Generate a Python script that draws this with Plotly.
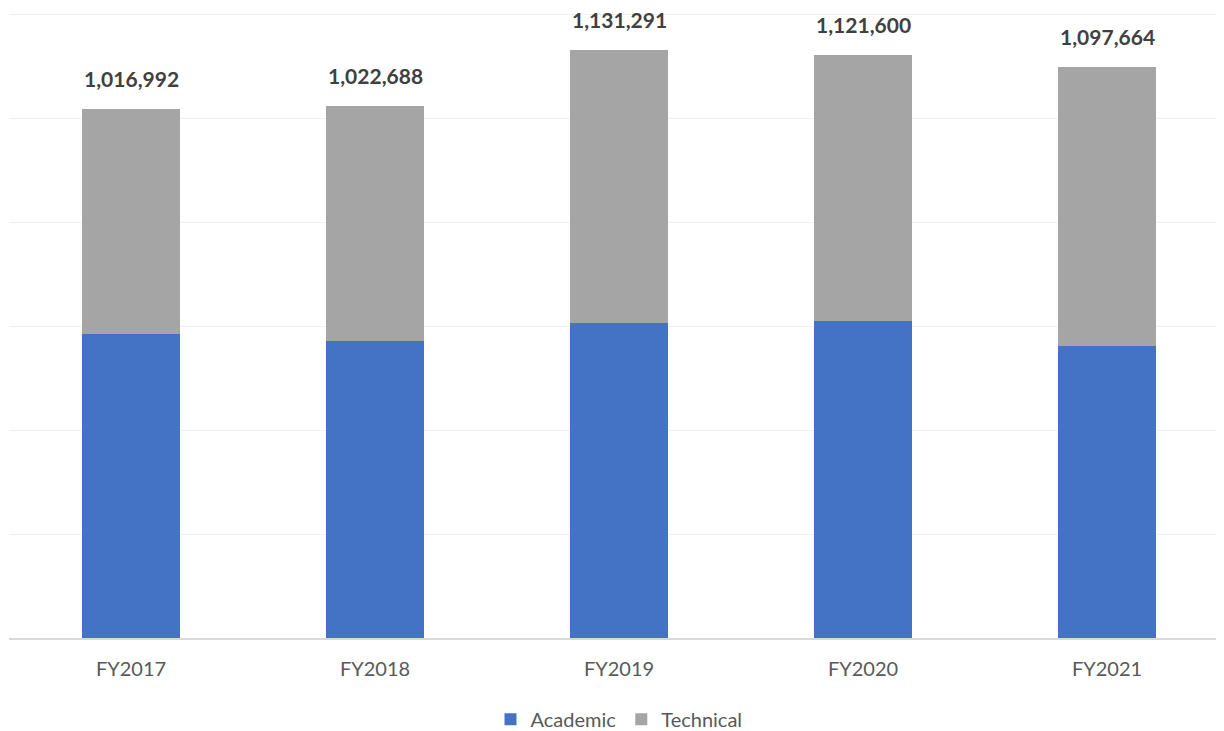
import plotly.graph_objects as go

years = ['FY2017', 'FY2018', 'FY2019', 'FY2020', 'FY2021']
totals = [1016992, 1022688, 1131291, 1121600, 1097664]
academic = [584300, 571600, 605400, 609200, 562000]
technical = [t - a for t, a in zip(totals, academic)]

FONT = 'Lato, Carlito, Calibri, sans-serif'

fig = go.Figure()
fig.add_trace(go.Bar(x=years, y=academic, name='Academic',
                     marker={'color': '#4472C4', 'line': {'width': 0}}))
fig.add_trace(go.Bar(x=years, y=technical, name='Technical',
                     marker={'color': '#A5A5A5', 'line': {'width': 0}}))

# Totals written above each stacked bar
for year, total in zip(years, totals):
    fig.add_annotation(x=year, y=total, text=f'<b>{total:,}</b>',
                       showarrow=False, yanchor='bottom', yshift=17, borderpad=0,
                       font={'size': 21, 'color': '#404040', 'family': FONT})

fig.update_layout(
    barmode='stack',
    bargap=0.6,
    width=1224, height=731,
    margin={'l': 1, 'r': 3, 't': 4, 'b': 100},
    plot_bgcolor='white',
    paper_bgcolor='white',
    font={'family': FONT, 'size': 20, 'color': '#595959'},
    xaxis={'range': [-0.5, 4.5], 'showline': True, 'linecolor': '#D9D9D9',
           'linewidth': 1.5, 'ticks': '', 'ticklabelstandoff': 12,
           'tickfont': {'size': 20, 'color': '#595959'}},
    # range a touch above 1.2M so the top gridline is drawn
    yaxis={'range': [0, 1204000], 'dtick': 200000, 'showticklabels': False,
           'gridcolor': '#F0F0F0', 'gridwidth': 1, 'zeroline': False},
    legend={'orientation': 'h', 'x': 0.5, 'xanchor': 'center', 'y': -0.128,
            'yanchor': 'middle', 'font': {'size': 20, 'color': '#595959'},
            'itemwidth': 30, 'traceorder': 'normal'},
    showlegend=True,
)

fig.write_html('out.html')
